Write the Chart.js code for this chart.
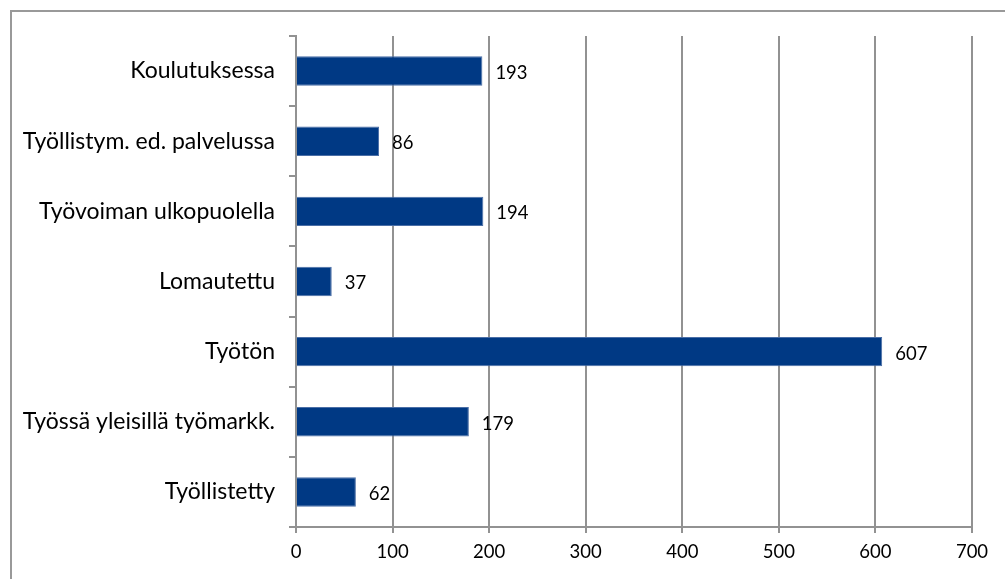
<!DOCTYPE html>
<html>
<head>
<meta charset="utf-8">
<script src="https://cdn.jsdelivr.net/npm/chart.js@4"></script>
<style>
  html, body { margin: 0; padding: 0; background: #fff; overflow: hidden; }
  #frame { position: absolute; left: 10px; top: 10px; width: 1100px; height: 700px; border: 2px solid #999; }
  #wrap { position: absolute; left: 0; top: 0; width: 1005px; height: 579px; }
</style>
</head>
<body>
<div id="frame"></div>
<div id="wrap"><canvas id="myChart" width="1005" height="579"></canvas></div>
<script>
var categories = ["Koulutuksessa", "Työllistym. ed. palvelussa", "Työvoiman ulkopuolella", "Lomautettu", "Työtön", "Työssä yleisillä työmarkk.", "Työllistetty"];
var values = [193, 86, 194, 37, 607, 179, 62];
var xTicks = [0, 100, 200, 300, 400, 500, 600, 700];

var numFont = { family: "Lato, 'Open Sans', sans-serif", size: 18.5 };
var catFont = { family: "Lato, 'Open Sans', sans-serif", size: 23 };

// value labels right of each bar
var barLabels = {
  id: 'barLabels',
  afterDatasetsDraw: function(chart) {
    var ctx = chart.ctx;
    var meta = chart.getDatasetMeta(0);
    ctx.save();
    ctx.font = numFont.size + "px " + numFont.family;
    ctx.fillStyle = "#000";
    ctx.textAlign = "left";
    ctx.textBaseline = "middle";
    meta.data.forEach(function(bar, i) {
      ctx.fillText(values[i], bar.x + 13, bar.y + 2);
    });
    ctx.restore();
  }
};

var ctx = document.getElementById('myChart').getContext('2d');
var myChart = new Chart(ctx, {
  type: 'bar',
  data: {
    labels: categories,
    datasets: [{
      data: values,
      backgroundColor: "#003984",
      borderColor: "#4a6ea6",
      borderWidth: 1,
      barPercentage: 0.42,
      categoryPercentage: 1
    }]
  },
  options: {
    indexAxis: 'y',
    responsive: false,
    animation: false,
    layout: { padding: { left: 0, right: 33, top: 36, bottom: 0 } },
    plugins: { legend: { display: false }, tooltip: { enabled: false } },
    scales: {
      x: {
        min: 0,
        max: 700,
        afterFit: function(scale) { scale.height = 52; },
        afterBuildTicks: function(scale) {
          scale.ticks = xTicks.map(function(v) { return { value: v }; });
        },
        ticks: { color: "#000", font: numFont, padding: 8, maxRotation: 0 },
        grid: { color: "#929292", lineWidth: 2, tickLength: 6 },
        border: { color: "#929292", width: 2 }
      },
      y: {
        afterFit: function(scale) { scale.width = 296; },
        ticks: { color: "#000", font: catFont, padding: 14 },
        grid: { drawOnChartArea: false, color: "#929292", lineWidth: 2, tickLength: 7, offset: true },
        border: { color: "#929292", width: 2 }
      }
    }
  },
  plugins: [barLabels]
});
</script>
</body>
</html>
